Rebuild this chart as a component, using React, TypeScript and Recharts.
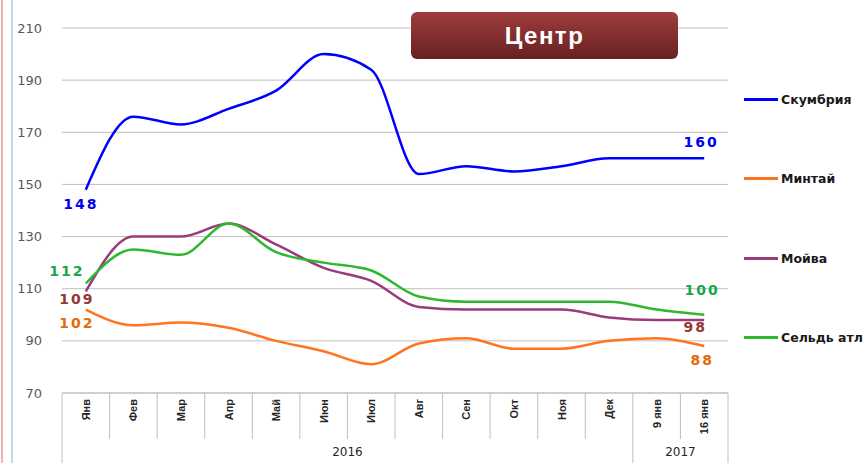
import { LineChart, Line, XAxis, YAxis, CartesianGrid } from 'recharts';

const months = ['Янв', 'Фев', 'Мар', 'Апр', 'Май', 'Июн', 'Июл', 'Авг', 'Сен', 'Окт', 'Ноя', 'Дек', '9 янв', '16 янв'];
const yearGroups = [
  { label: '2016', from: 0, to: 11 },
  { label: '2017', from: 12, to: 13 },
];
const yTicks = [70, 90, 110, 130, 150, 170, 190, 210];

const skumbria = [148, 176, 173, 179, 186, 200, 194, 154, 157, 155, 157, 160, 160, 160];
const mintai = [102, 96, 97, 95, 90, 86, 81, 89, 91, 87, 87, 90, 91, 88];
const moiva = [109, 130, 130, 135, 127, 118, 113, 103, 102, 102, 102, 99, 98, 98];
const seld = [112, 125, 123, 135, 124, 120, 117, 107, 105, 105, 105, 105, 102, 100];

const W = 868;
const H = 463;
const PLOT_LEFT = 62;
const PLOT_RIGHT = 728;
const PLOT_TOP = 28;
const AXIS_H = 70;
const BAND = (PLOT_RIGHT - PLOT_LEFT) / months.length;

const data = months.map((m, i) => ({
  month: m,
  skumbria: skumbria[i],
  mintai: mintai[i],
  moiva: moiva[i],
  seld: seld[i],
}));

// first / last point label offsets (dx, dy from the point)
const series = [
  { key: 'skumbria', name: 'Скумбрия', color: '#0000FF', labelColor: '#0000F0', first: [-5, 14], last: [-3, -16] },
  { key: 'mintai', name: 'Минтай', color: '#FF7420', labelColor: '#E46C0A', first: [-9, 13], last: [-2, 14] },
  { key: 'moiva', name: 'Мойва', color: '#9A3B7C', labelColor: '#953735', first: [-9, 8], last: [-9, 7] },
  { key: 'seld', name: 'Сельдь атл', color: '#2DB82D', labelColor: '#17A84A', first: [-19, -13], last: [-2, -25] },
];

const GRID = '#BFBFBF';

function makeLabel(s: typeof series[number]) {
  return (props: any) => {
    const { x, y, index, value } = props;
    const last = months.length - 1;
    if (index !== 0 && index !== last) return null;
    const [dx, dy] = index === 0 ? s.first : s.last;
    return (
      <text
        x={x + dx}
        y={y + dy}
        textAnchor="middle"
        dominantBaseline="central"
        fill={s.labelColor}
        fontFamily="DejaVu Sans"
        fontWeight="bold"
        fontSize={14}
        letterSpacing={2}
      >
        {value}
      </text>
    );
  };
}

const CategoryTick = (props: any) => {
  const { x, y, payload } = props;
  const i = props.index ?? months.indexOf(payload.value);
  const left = x - BAND / 2;
  const starts = yearGroups.map((g) => g.from);
  const group = yearGroups.find((g) => g.to === i);
  return (
    <g>
      <line x1={left} x2={left} y1={y} y2={starts.includes(i) ? y + AXIS_H : y + 46} stroke={GRID} />
      {i === months.length - 1 && (
        <line x1={x + BAND / 2} x2={x + BAND / 2} y1={y} y2={y + AXIS_H} stroke={GRID} />
      )}
      <text
        transform={`translate(${x},${y + 6}) rotate(-90)`}
        textAnchor="end"
        dominantBaseline="central"
        fontFamily="Liberation Sans"
        fontWeight="bold"
        fontSize={11}
        fill="#262626"
      >
        {payload.value}
      </text>
      {group && (
        <text
          x={x + BAND / 2 - ((group.to - group.from + 1) * BAND) / 2}
          y={y + 63}
          textAnchor="middle"
          fontFamily="DejaVu Sans"
          fontSize={12}
          fill="#262626"
        >
          {group.label}
        </text>
      )}
    </g>
  );
};

export default function App() {
  return (
    <div style={{ position: 'absolute', left: 0, top: 0, width: W, height: H, background: '#fff', overflow: 'hidden' }}>
      <div style={{ position: 'absolute', left: 1, top: 0, width: 2, height: H, background: '#F2AFAF' }} />
      <div style={{ position: 'absolute', left: 11, top: 0, width: 2, height: H, background: '#C6D6EC' }} />
      <LineChart
        width={W}
        height={H}
        data={data}
        margin={{ top: PLOT_TOP, right: W - PLOT_RIGHT, bottom: 0, left: 0 }}
      >
        <CartesianGrid vertical={false} stroke={GRID} />
        <XAxis
          dataKey="month"
          interval={0}
          height={AXIS_H}
          padding={{ left: BAND / 2, right: BAND / 2 }}
          tickLine={false}
          tickSize={0}
          tickMargin={0}
          axisLine={{ stroke: GRID }}
          tick={<CategoryTick />}
        />
        <YAxis
          width={PLOT_LEFT}
          domain={[70, 210]}
          ticks={yTicks}
          axisLine={false}
          tickLine={false}
          tickSize={0}
          tickMargin={20}
          tick={{ fill: '#595959', fontSize: 13, fontFamily: 'DejaVu Sans' }}
        />
        {series.map((s) => (
          <Line
            key={s.key}
            type="monotone"
            dataKey={s.key}
            name={s.name}
            stroke={s.color}
            strokeWidth={2.5}
            dot={false}
            activeDot={false}
            isAnimationActive={false}
            label={makeLabel(s)}
          />
        ))}
      </LineChart>
      {series.map((s, i) => (
        <div
          key={s.key}
          style={{ position: 'absolute', left: 744, top: 99 + i * 79.6 - 9, height: 18, display: 'flex', alignItems: 'center', whiteSpace: 'nowrap' }}
        >
          <span style={{ display: 'inline-block', width: 34, height: 3, background: s.color, marginRight: 3 }} />
          <span style={{ fontFamily: 'DejaVu Sans', fontWeight: 'bold', fontSize: 12.5, color: '#1a1a1a' }}>{s.name}</span>
        </div>
      ))}
      <div
        style={{
          position: 'absolute',
          left: 411,
          top: 12,
          width: 267,
          height: 47,
          borderRadius: 6,
          background: 'linear-gradient(#9E3C3C, #682121)',
          color: '#fff',
          display: 'flex',
          alignItems: 'center',
          justifyContent: 'center',
          fontFamily: 'Liberation Sans',
          fontWeight: 'bold',
          fontSize: 24,
          letterSpacing: 1.5,
        }}
      >
        Центр
      </div>
    </div>
  );
}
